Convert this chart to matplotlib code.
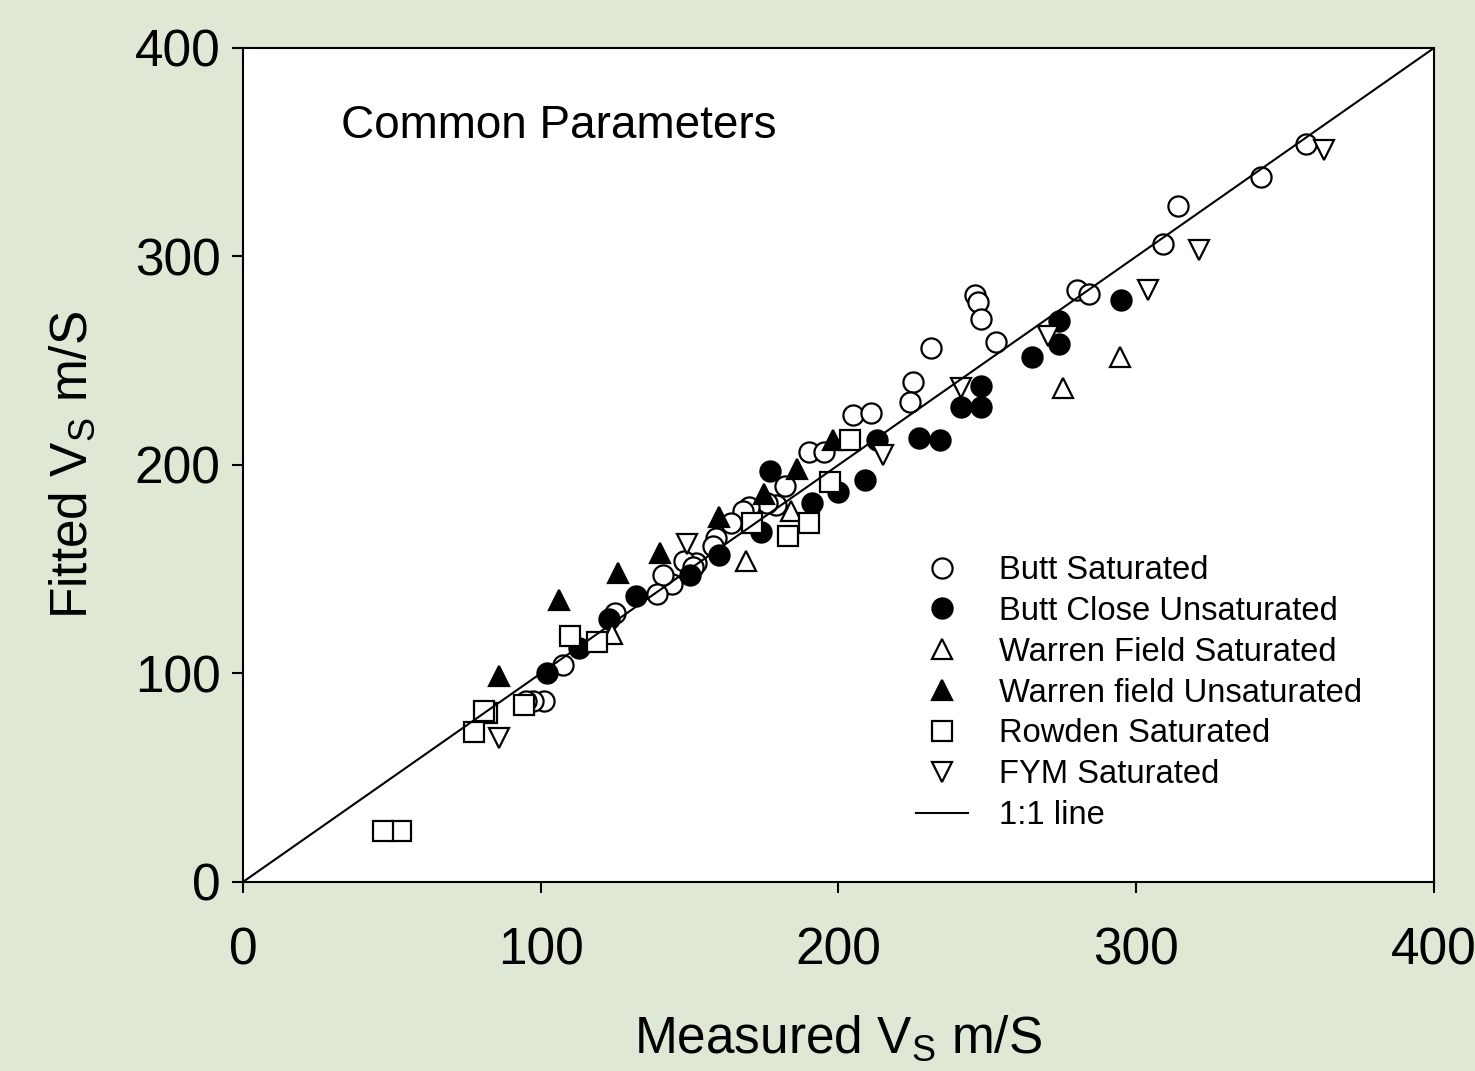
import matplotlib
matplotlib.use('Agg')
import matplotlib.pyplot as plt

plt.rcParams['font.family'] = ['Liberation Sans', 'DejaVu Sans']
plt.rcParams['mathtext.fontset'] = 'custom'
plt.rcParams['mathtext.rm'] = 'Liberation Sans'

# data (measured, fitted)
butt_sat_x = [357, 342, 314, 309, 280, 284, 246, 247, 248, 253, 231, 225, 224, 205, 211,
              190, 195, 182, 179, 176, 170, 168, 164, 159, 158, 152, 148, 151, 144, 141,
              139, 125, 107.5, 101, 97.5, 95]
butt_sat_y = [354, 338, 324, 306, 284, 282, 281.5, 278, 270, 259, 256, 240, 230, 224, 225,
              206, 206, 190, 181, 182, 180, 178, 172, 165, 161, 153, 154, 151, 143, 147,
              138, 129, 104, 87, 87, 87]

butt_unsat_x = [295, 274, 274, 265, 248, 248, 241, 234, 227, 213, 209, 200, 191, 177, 174,
                160, 150, 132, 123, 113, 102]
butt_unsat_y = [279, 269, 258, 252, 238, 228, 228, 212, 213, 212, 193, 187, 182, 197, 168,
                157, 147, 137, 126, 112, 100]

warren_sat_x = [294.5, 275.5, 184, 169, 124]
warren_sat_y = [252, 237, 178, 154, 119]

warren_unsat_x = [198, 186, 175, 160, 140, 126, 106, 86]
warren_unsat_y = [212, 198, 186, 175, 158, 148, 135, 99]

rowden_x = [204, 197, 190, 183, 171, 119, 110, 94.4, 82, 81, 77.6, 53, 47]
rowden_y = [212, 192, 172, 166, 172, 115, 118, 85, 81, 82, 72, 24.6, 24.6]

fym_x = [363, 321, 304, 270.5, 241, 215, 149, 86]
fym_y = [351, 303, 284, 262, 237, 205, 162, 69]

one_to_one = [0, 400]

bg = '#dfe8d5'
fig = plt.figure(figsize=(14.75, 10.71), dpi=100, facecolor=bg)
ax = fig.add_axes([0.1647, 0.1765, 0.9722 - 0.1647, 0.9552 - 0.1765])
ax.set_facecolor('white')

ms = 14.5
mew = 1.6
common = dict(linestyle='none', markersize=ms, markeredgewidth=mew, markeredgecolor='black')
ax.plot(butt_sat_x, butt_sat_y, marker='o', markerfacecolor='white', label='Butt Saturated', **common)
ax.plot(butt_unsat_x, butt_unsat_y, marker='o', markerfacecolor='black', label='Butt Close Unsaturated', **common)
ax.plot(warren_sat_x, warren_sat_y, marker='^', markerfacecolor='white', label='Warren Field Saturated', **common)
ax.plot(warren_unsat_x, warren_unsat_y, marker='^', markerfacecolor='black', label='Warren field Unsaturated', **common)
ax.plot(rowden_x, rowden_y, marker='s', markerfacecolor='white', label='Rowden Saturated', **common)
ax.plot(fym_x, fym_y, marker='v', markerfacecolor='white', label='FYM Saturated', **common)
ax.plot(one_to_one, one_to_one, color='black', linewidth=1.5, label='1:1 line', zorder=5)

ax.set_xlim(0, 400)
ax.set_ylim(0, 400)
ax.set_xticks([0, 100, 200, 300, 400])
ax.set_yticks([0, 100, 200, 300, 400])
ax.tick_params(axis='both', labelsize=37, length=8, width=1.5, direction='out')
ax.tick_params(axis='x', pad=24)
ax.tick_params(axis='y', pad=8)
for s in ax.spines.values():
    s.set_linewidth(1.5)
ax.yaxis.set_ticks_position('left')
ax.xaxis.set_ticks_position('bottom')

ax.set_xlabel(r'Measured V$_{\mathregular{S}}$ m/S', fontsize=37, labelpad=28)
ax.set_ylabel(r'Fitted V$_{\mathregular{S}}$ m/S', fontsize=37, labelpad=27)

ax.text(33, 362.5, 'Common Parameters', fontsize=33, ha='left', va='center')

leg = ax.legend(loc='upper left', bbox_to_anchor=(0.565, 0.392), frameon=False,
                fontsize=23.6, borderaxespad=0, borderpad=0, labelspacing=0.3,
                handlelength=1.6, handletextpad=0.95, numpoints=1)

plt.savefig('out.png', dpi=100, facecolor=bg)
